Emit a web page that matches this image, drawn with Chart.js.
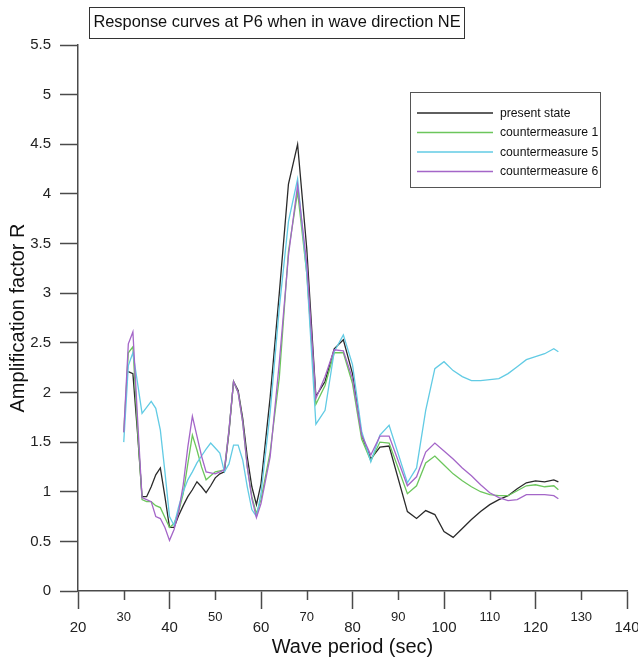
<!DOCTYPE html>
<html>
<head>
<meta charset="utf-8">
<script src="https://cdn.jsdelivr.net/npm/chart.js@4.4.1/dist/chart.umd.min.js"></script>
<style>
html,body{margin:0;padding:0;background:#fff;}
canvas{display:block;}
</style>
</head>
<body>
<canvas id="c" width="638" height="659"></canvas>
<script>
const chartTitle = 'Response curves at P6 when in wave direction NE';
const xAxisTitle = 'Wave period (sec)';
const yAxisTitle = 'Amplification factor R';
const seriesLabels = ['present state', 'countermeasure 1', 'countermeasure 5', 'countermeasure 6'];
const seriesColors = ['#2a2a2a', '#6cc65c', '#62cbe4', '#a466c8'];

const periods = [30,31,32,33,34,35,36,37,38,39,40,41,42,43,44,45,46,47,48,49,50,51,52,53,54,55,56,57,58,59,60,
  62,64,66,68,70,72,74,76,78,80,82,84,86,88,92,94,96,98,100,102,104,106,108,110,112,114,116,118,120,122,124,125];

const presentState = [null,2.21,2.19,1.60,0.95,0.95,1.05,1.17,1.24,0.95,0.64,0.64,0.76,0.86,0.95,1.02,1.10,1.05,0.99,1.06,1.14,1.18,1.20,1.60,2.11,2.02,1.74,1.35,1.05,0.87,1.08,
  1.95,3.00,4.10,4.50,3.45,1.96,2.11,2.44,2.53,2.19,1.57,1.33,1.45,1.46,0.80,0.73,0.81,0.77,0.60,0.54,0.63,0.72,0.80,0.87,0.92,0.96,1.03,1.09,1.11,1.10,1.12,1.10];

const countermeasure1 = [1.60,2.40,2.46,1.65,0.92,0.90,0.90,0.86,0.84,0.74,0.64,0.68,0.80,0.98,1.28,1.57,1.42,1.25,1.12,1.16,1.20,1.21,1.22,1.62,2.11,2.00,1.70,1.25,0.95,0.78,0.92,
  1.40,2.15,3.42,4.02,3.20,1.88,2.07,2.40,2.40,2.09,1.53,1.31,1.50,1.49,0.98,1.06,1.29,1.36,1.27,1.18,1.11,1.05,1.00,0.97,0.96,0.96,1.01,1.06,1.07,1.05,1.06,1.02];

const countermeasure5 = [1.50,2.27,2.40,2.10,1.79,1.85,1.91,1.84,1.62,1.20,0.75,0.66,0.85,1.00,1.12,1.20,1.29,1.36,1.43,1.49,1.44,1.39,1.20,1.28,1.47,1.47,1.32,1.05,0.82,0.75,0.98,
  1.80,2.85,3.72,4.15,3.20,1.68,1.82,2.41,2.58,2.28,1.61,1.30,1.57,1.67,1.09,1.24,1.82,2.24,2.31,2.22,2.16,2.12,2.12,2.13,2.14,2.19,2.26,2.33,2.36,2.39,2.44,2.41];

const countermeasure6 = [1.60,2.49,2.61,1.75,0.94,0.92,0.90,0.75,0.73,0.64,0.51,0.62,0.80,1.07,1.45,1.76,1.56,1.36,1.20,1.19,1.18,1.20,1.22,1.62,2.11,2.00,1.70,1.25,0.93,0.74,0.88,
  1.35,2.30,3.38,4.09,3.30,1.94,2.16,2.43,2.42,2.14,1.57,1.37,1.56,1.56,1.06,1.15,1.40,1.49,1.41,1.33,1.24,1.16,1.07,0.99,0.94,0.91,0.92,0.97,0.97,0.97,0.96,0.93];

const xTicks = [20,30,40,50,60,70,80,90,100,110,120,130,140];
const yTicks = [0,0.5,1,1.5,2,2.5,3,3.5,4,4.5,5,5.5];

const FONT = '"Liberation Sans", Arial, Helvetica, sans-serif';
const AXIS = '#4a4a4a';
const allSeries = [presentState, countermeasure1, countermeasure5, countermeasure6];
const drawOrder = [4, 3, 2, 1];

const datasets = allSeries.map((vals, i) => ({
  label: seriesLabels[i],
  data: periods.map((p, j) => ({ x: p, y: vals[j] })),
  borderColor: seriesColors[i],
  backgroundColor: seriesColors[i],
  borderWidth: 1.3,
  pointRadius: 0,
  tension: 0,
  fill: false,
  order: drawOrder[i]
}));

const isMajor = v => Math.round(v) % 20 === 0;

const decorPlugin = {
  id: 'decor',
  afterDraw(chart) {
    const ctx = chart.ctx;
    const xs = chart.scales.x;
    // minor x ticks (shorter)
    ctx.save();
    ctx.strokeStyle = AXIS;
    ctx.lineWidth = 1.5;
    xTicks.forEach(v => {
      if (!isMajor(v)) {
        const px = Math.round(xs.getPixelForValue(v)) + 0.5;
        ctx.beginPath();
        ctx.moveTo(px, xs.top);
        ctx.lineTo(px, xs.top + 9);
        ctx.stroke();
      }
    });
    ctx.restore();

    // boxed title
    ctx.save();
    ctx.font = '16.4px ' + FONT;
    ctx.fillStyle = '#111';
    ctx.textAlign = 'center';
    ctx.textBaseline = 'middle';
    const tcx = 277, tcy = 22.5;
    const tw = ctx.measureText(chartTitle).width;
    ctx.fillText(chartTitle, tcx, tcy);
    ctx.strokeStyle = '#333';
    ctx.lineWidth = 1;
    const bw = Math.max(tw + 8, 374);
    ctx.strokeRect(Math.round(tcx - bw / 2) + 0.5, 7.5, Math.round(bw), 31);
    ctx.restore();

    // legend box
    ctx.save();
    const lx = 410, ly = 92, lw = 190, lh = 95;
    ctx.strokeStyle = '#555';
    ctx.lineWidth = 1;
    ctx.strokeRect(lx + 0.5, ly + 0.5, lw, lh);
    ctx.font = '12.2px ' + FONT;
    ctx.textAlign = 'left';
    ctx.textBaseline = 'middle';
    chart.data.datasets.forEach((ds, i) => {
      const y = 113 + i * 19.5;
      ctx.strokeStyle = ds.borderColor;
      ctx.lineWidth = 1.4;
      ctx.beginPath();
      ctx.moveTo(417, y);
      ctx.lineTo(493, y);
      ctx.stroke();
      ctx.fillStyle = '#111';
      ctx.fillText(ds.label, 500, y + 0.5);
    });
    ctx.restore();
  }
};

new Chart(document.getElementById('c'), {
  type: 'line',
  data: { datasets },
  options: {
    responsive: false,
    animation: false,
    devicePixelRatio: 1,
    layout: { padding: { top: 45, right: 11, bottom: 0, left: 0 } },
    plugins: {
      legend: { display: false },
      title: { display: false },
      tooltip: { enabled: false }
    },
    scales: {
      x: {
        type: 'linear',
        min: 20,
        max: 140,
        afterBuildTicks: s => { s.ticks = xTicks.map(v => ({ value: v })); },
        afterFit: s => { s.height = 68; s.paddingLeft = 0; s.paddingRight = 0; },
        border: { display: true, color: AXIS, width: 1.5 },
        grid: {
          display: true,
          drawOnChartArea: false,
          drawTicks: true,
          tickLength: 18,
          tickWidth: 1.5,
          tickColor: c => (c.tick && !isMajor(c.tick.value)) ? 'rgba(0,0,0,0)' : AXIS
        },
        ticks: {
          autoSkip: false,
          maxRotation: 0,
          minRotation: 0,
          padding: 2,
          color: '#222',
          callback: v => String(v),
          font: c => {
            const v = c.tick ? c.tick.value : 20;
            return isMajor(v)
              ? { family: FONT, size: 15, lineHeight: 2.27 }
              : { family: FONT, size: 13, lineHeight: 0.92 };
          }
        },
        title: {
          display: true,
          text: xAxisTitle,
          color: '#111',
          font: { family: FONT, size: 20, lineHeight: 1.2 },
          padding: { top: 0, bottom: 0 }
        }
      },
      y: {
        type: 'linear',
        min: 0,
        max: 5.5,
        afterBuildTicks: s => { s.ticks = yTicks.map(v => ({ value: v })); },
        afterFit: s => { s.width = 78; },
        border: { display: true, color: AXIS, width: 1.5 },
        grid: {
          display: true,
          drawOnChartArea: false,
          drawTicks: true,
          tickLength: 18,
          tickWidth: 1.5,
          tickColor: AXIS
        },
        ticks: {
          padding: 9,
          color: '#222',
          font: { family: FONT, size: 15 },
          callback: v => String(v)
        },
        title: {
          display: true,
          text: yAxisTitle,
          color: '#111',
          font: { family: FONT, size: 20, lineHeight: 1.2 },
          padding: { top: 6, bottom: 0 }
        }
      }
    }
  },
  plugins: [decorPlugin]
});
</script>
</body>
</html>
